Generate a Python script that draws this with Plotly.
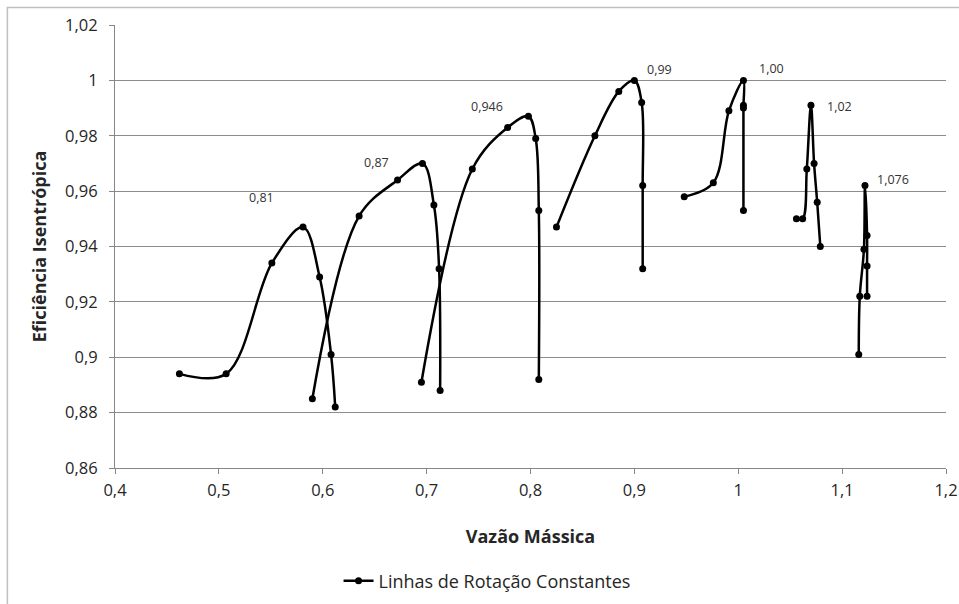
import plotly.graph_objects as go

# Constant-speed lines: mass flow (x) and isentropic efficiency (y)
speed_labels = ["0,81", "0,87", "0,946", "0,99", "1,00", "1,02", "1,076"]

flow_081 = [0.462, 0.507, 0.551, 0.581, 0.597, 0.608, 0.612]
eff_081 = [0.894, 0.894, 0.934, 0.947, 0.929, 0.901, 0.882]

flow_087 = [0.590, 0.635, 0.672, 0.696, 0.707, 0.712, 0.713]
eff_087 = [0.885, 0.951, 0.964, 0.970, 0.955, 0.932, 0.888]

flow_0946 = [0.695, 0.744, 0.778, 0.798, 0.805, 0.808, 0.808]
eff_0946 = [0.891, 0.968, 0.983, 0.987, 0.979, 0.953, 0.892]

flow_099 = [0.825, 0.862, 0.885, 0.900, 0.907, 0.908, 0.908]
eff_099 = [0.947, 0.980, 0.996, 1.000, 0.992, 0.962, 0.932]

flow_100 = [0.948, 0.976, 0.991, 1.005, 1.005, 1.005, 1.005]
eff_100 = [0.958, 0.963, 0.989, 1.000, 0.991, 0.990, 0.953]

flow_102 = [1.056, 1.062, 1.066, 1.070, 1.073, 1.076, 1.079]
eff_102 = [0.950, 0.950, 0.968, 0.991, 0.970, 0.956, 0.940]

flow_1076 = [1.116, 1.117, 1.121, 1.122, 1.124, 1.124, 1.124]
eff_1076 = [0.901, 0.922, 0.939, 0.962, 0.944, 0.933, 0.922]

# Position of each speed label
label_x = [0.541, 0.652, 0.758, 0.924, 1.032, 1.097, 1.149]
label_y = [0.9577, 0.9703, 0.9905, 1.0040, 1.0042, 0.9907, 0.9642]

x_tickvals = [0.4, 0.5, 0.6, 0.7, 0.8, 0.9, 1.0, 1.1, 1.2]
x_ticktext = ["0,4", "0,5", "0,6", "0,7", "0,8", "0,9", "1", "1,1", "1,2"]
y_tickvals = [0.86, 0.88, 0.90, 0.92, 0.94, 0.96, 0.98, 1.00, 1.02]
y_ticktext = ["0,86", "0,88", "0,9", "0,92", "0,94", "0,96", "0,98", "1", "1,02"]

series = [
    (flow_081, eff_081),
    (flow_087, eff_087),
    (flow_0946, eff_0946),
    (flow_099, eff_099),
    (flow_100, eff_100),
    (flow_102, eff_102),
    (flow_1076, eff_1076),
]

FONT = "'Open Sans', sans-serif"
TXT = "#262626"

fig = go.Figure()
for i, (xs, ys) in enumerate(series):
    fig.add_trace(go.Scatter(
        x=xs, y=ys,
        mode="lines+markers",
        name="Linhas de Rotação Constantes",
        legendgroup="rot",
        showlegend=(i == 0),
        line=dict(color="black", width=2.5, shape="spline", smoothing=1.0),
        marker=dict(color="black", size=7),
        hoverinfo="x+y",
    ))

for txt, lx, ly in zip(speed_labels, label_x, label_y):
    fig.add_annotation(x=lx, y=ly, text=txt, showarrow=False,
                       font=dict(size=12.5, color="#333333", family=FONT))

# Chart-area border
fig.add_shape(type="rect", xref="paper", yref="paper",
              x0=-0.1295, x1=1.2, y0=-0.4, y1=1.0395,
              line=dict(color="#bfbfbf", width=1.5), layer="below")

fig.update_layout(
    width=959, height=604,
    margin=dict(l=115, r=13, t=25, b=136, autoexpand=False),
    paper_bgcolor="white", plot_bgcolor="white",
    font=dict(family=FONT, size=13, color=TXT),
    showlegend=True,
    legend=dict(orientation="h", x=0.4477, xanchor="center", y=-0.255, yanchor="middle",
                font=dict(size=18, color=TXT, family=FONT),
                bgcolor="rgba(0,0,0,0)", itemwidth=30),
    xaxis=dict(
        range=[0.4, 1.2], tickvals=x_tickvals, ticktext=x_ticktext,
        showgrid=False, zeroline=False, automargin=False,
        showline=True, linecolor="#868686", linewidth=1,
        ticks="outside", ticklen=5, tickcolor="#868686",
        ticklabelstandoff=2,
        tickfont=dict(size=16.5, family=FONT, color=TXT),
        title=dict(text="<b>Vazão Mássica</b>", standoff=30,
                   font=dict(size=18, family=FONT, color=TXT)),
    ),
    yaxis=dict(
        range=[0.86, 1.02], tickvals=y_tickvals, ticktext=y_ticktext,
        showgrid=True, gridcolor="#8c8c8c", gridwidth=1, zeroline=False,
        automargin=False,
        showline=True, linecolor="#868686", linewidth=1,
        ticks="outside", ticklen=5, tickcolor="#868686",
        ticklabelstandoff=8,
        tickfont=dict(size=16.5, family=FONT, color=TXT),
        title=dict(text="<b>Eficiência Isentrópica</b>", standoff=13,
                   font=dict(size=18, family=FONT, color=TXT)),
    ),
)

fig.write_html("out.html")
